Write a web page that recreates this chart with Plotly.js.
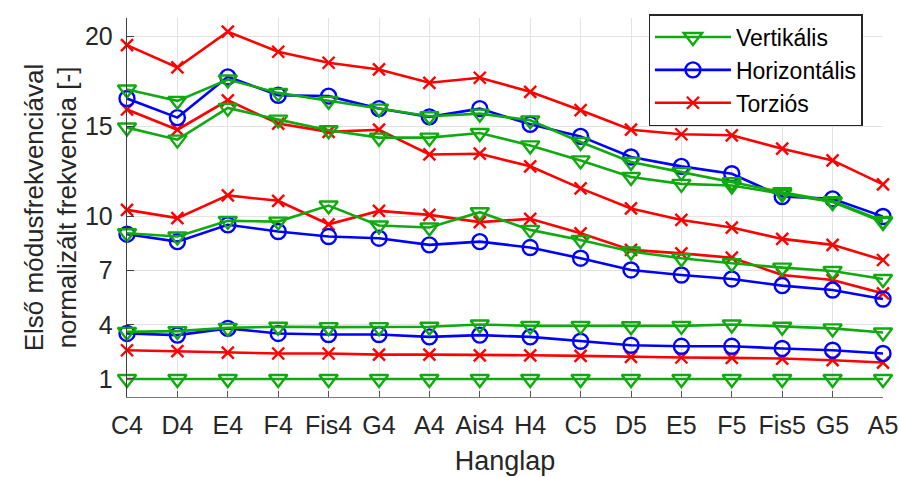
<!DOCTYPE html>
<html>
<head>
<meta charset="utf-8">
<script src="https://cdn.plot.ly/plotly-3.0.1.min.js"></script>
<style>html,body{margin:0;padding:0;background:#fff;}#chart{width:901px;height:477px;}</style>
</head>
<body>
<div id="chart"></div>
<script>
const categories = ["C4","D4","E4","F4","Fis4","G4","A4","Ais4","H4","C5","D5","E5","F5","Fis5","G5","A5"];
const yTickVals = [1,4,7,10,15,20];

// Vertikális (green)
const vert1 = [17.04,16.41,17.59,16.85,16.41,15.98,15.56,15.70,15.33,14.13,13.02,12.46,11.90,11.35,10.85,9.76];
const vert2 = [14.93,14.26,16.02,15.37,14.78,14.37,14.37,14.63,13.94,13.11,12.19,11.81,11.72,11.26,10.80,9.70];
const vert3 = [9.07,8.89,9.76,9.72,10.61,9.50,9.39,10.24,9.26,8.70,8.06,7.69,7.41,7.17,6.98,6.54];
const vert4 = [3.61,3.65,3.83,3.89,3.87,3.87,3.89,4.02,3.94,3.94,3.92,3.94,4.02,3.89,3.80,3.57];
const vert5 = [1,1,1,1,1,1,1,1,1,1,1,1,1,1,1,1];

// Horizontális (blue)
const horiz1 = [16.54,15.48,17.74,16.72,16.67,15.98,15.52,15.98,15.11,14.44,13.30,12.78,12.37,11.11,10.98,10.00];
const horiz2 = [9.02,8.61,9.54,9.17,8.89,8.80,8.43,8.61,8.28,7.69,7.04,6.76,6.54,6.17,5.93,5.43];
const horiz3 = [3.52,3.43,3.80,3.52,3.46,3.46,3.33,3.43,3.33,3.09,2.87,2.81,2.81,2.69,2.59,2.41];

// Torziós (red)
const tors1 = [19.50,18.26,20.24,19.13,18.52,18.15,17.41,17.69,16.91,15.89,14.81,14.56,14.50,13.76,13.11,11.78];
const tors2 = [15.93,14.81,16.44,15.15,14.69,14.81,13.44,13.48,12.78,11.56,10.45,9.81,9.39,8.76,8.43,7.59];
const tors3 = [10.37,9.91,11.17,10.87,9.57,10.31,10.09,9.69,9.87,9.07,8.15,7.96,7.72,6.76,6.48,5.74];
const tors4 = [2.59,2.54,2.46,2.41,2.41,2.35,2.35,2.31,2.31,2.28,2.22,2.19,2.17,2.13,2.04,1.91];

const GREEN = "#10aa10", BLUE = "#0000ff", RED = "#ff0000";

function mk(y, name, color, symbol, size, show, rank) {
  return {
    x: categories, y: y, type: "scatter", mode: "lines+markers",
    name: name, legendgroup: name, showlegend: show, legendrank: rank,
    cliponaxis: false,
    line: {color: color, width: 2.6},
    marker: {symbol: symbol, size: size, color: color, line: {color: color, width: 2.4}}
  };
}

const traces = [];
[tors1, tors2, tors3, tors4].forEach((s, i) => traces.push(mk(s, "Torziós", RED, "x-thin-open", 12, i === 0, 3)));
[horiz1, horiz2, horiz3].forEach((s, i) => traces.push(mk(s, "Horizontális", BLUE, "circle-open", 15, i === 0, 2)));
[vert1, vert2, vert3, vert4, vert5].forEach((s, i) => traces.push(mk(s, "Vertikális", GREEN, "triangle-down-open", 16, i === 0, 1)));

const layout = {
  width: 901, height: 477,
  margin: {l: 127, r: 18, t: 18, b: 80},
  paper_bgcolor: "#fff", plot_bgcolor: "#fff",
  font: {family: "Arial, 'Liberation Sans', sans-serif", color: "#262626", size: 25},
  showlegend: true,
  legend: {
    x: 0.69, y: 1.01, xanchor: "left", yanchor: "top",
    bgcolor: "#fff", bordercolor: "#262626", borderwidth: 1.3,
    font: {size: 23, color: "#000"}, itemwidth: 76, tracegroupgap: 0
  },
  xaxis: {
    type: "category", range: [0, 15], automargin: false,
    showgrid: true, gridcolor: "#e3e3e3", gridwidth: 1,
    showline: true, linecolor: "#7a7a7a", linewidth: 1.3,
    ticks: "inside", ticklen: 6, tickcolor: "#555", zeroline: false,
    tickfont: {size: 25, color: "#262626"}, ticklabelstandoff: 6,
    title: {text: "Hanglap", font: {size: 27, color: "#262626"}, standoff: 12}
  },
  yaxis: {
    range: [0, 21], tickvals: yTickVals, ticktext: yTickVals.map(String), automargin: false,
    showgrid: true, gridcolor: "#e3e3e3", gridwidth: 1,
    showline: true, linecolor: "#404040", linewidth: 1.3,
    ticks: "inside", ticklen: 7, tickcolor: "#404040", zeroline: false,
    tickfont: {size: 25, color: "#262626"}, ticklabelstandoff: 8,
    title: {text: "Első módusfrekvenciával<br>normalizált frekvencia [-]", font: {size: 26, color: "#262626"}, standoff: 0}
  }
};

Plotly.newPlot("chart", traces, layout, {displayModeBar: false, staticPlot: true});
</script>
</body>
</html>
